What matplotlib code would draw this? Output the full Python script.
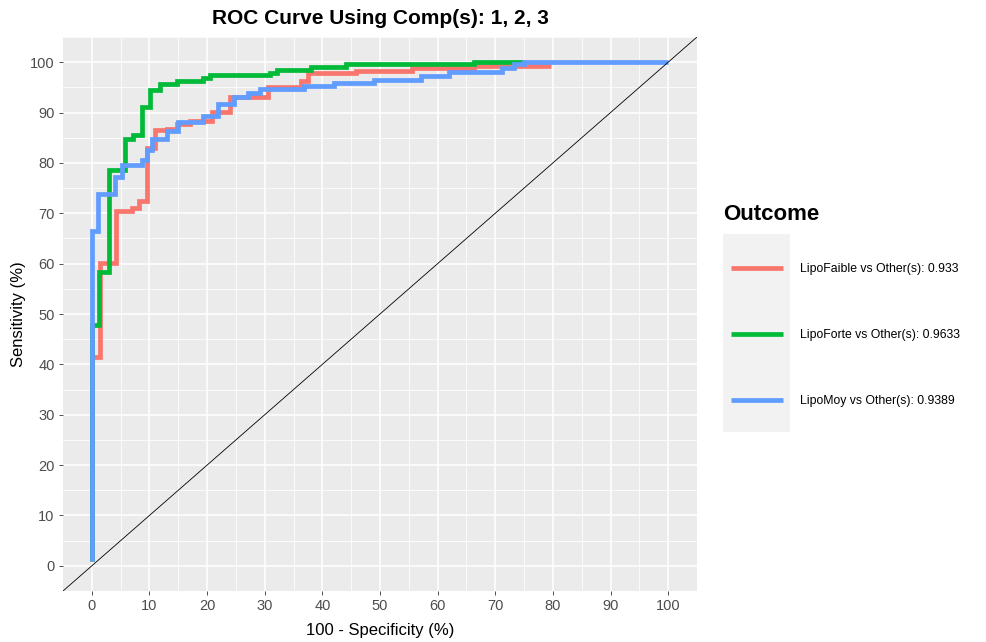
import matplotlib
matplotlib.use('Agg')
import matplotlib.pyplot as plt
from matplotlib.lines import Line2D
from matplotlib.patches import Rectangle
import numpy as np

plt.rcParams['font.family'] = ['Liberation Sans', 'DejaVu Sans']

# ROC curve corner points (100 - specificity, sensitivity)
faible_x = [0, 0, 1.4, 1.4, 4.2, 4.2, 6.9, 6.9, 8.1, 8.1, 9.6, 9.6, 11.0, 11.0, 13.0, 13.0,
            14.7, 14.7, 17.0, 17.0, 20.8, 20.8, 23.9, 23.9, 30.6, 30.6, 36.3, 36.3, 37.5, 37.5,
            45.8, 45.8, 55.6, 55.6, 66.3, 66.3, 79.6]
faible_y = [1, 41.5, 41.5, 60.2, 60.2, 70.4, 70.4, 71.1, 71.1, 72.5, 72.5, 82.9, 82.9, 86.5, 86.5, 86.8,
            86.8, 87.8, 87.8, 88.3, 88.3, 90.1, 90.1, 93.0, 93.0, 95.0, 95.0, 96.3, 96.3, 97.8,
            97.8, 98.3, 98.3, 98.8, 98.8, 99.3, 99.3]

forte_x = [0, 0, 1.3, 1.3, 3.0, 3.0, 5.8, 5.8, 7.2, 7.2, 8.65, 8.65, 10.1, 10.1, 11.8, 11.8,
           14.7, 14.7, 19.3, 19.3, 20.5, 20.5, 30.9, 30.9, 32.2, 32.2, 38.1, 38.1, 44.1, 44.1,
           66.3, 66.3, 75.2]
forte_y = [1, 47.8, 47.8, 58.3, 58.3, 78.6, 78.6, 84.8, 84.8, 85.5, 85.5, 91.1, 91.1, 94.5, 94.5, 95.7,
           95.7, 96.2, 96.2, 96.9, 96.9, 97.4, 97.4, 97.9, 97.9, 98.4, 98.4, 99.1, 99.1, 99.6,
           99.6, 100, 100]

moy_x = [0, 0, 1.15, 1.15, 4.0, 4.0, 5.2, 5.2, 8.65, 8.65, 9.5, 9.5, 10.4, 10.4, 13.0, 13.0,
         15.0, 15.0, 19.3, 19.3, 21.9, 21.9, 24.7, 24.7, 27.1, 27.1, 29.1, 29.1, 36.9, 36.9,
         42.0, 42.0, 49.0, 49.0, 57.1, 57.1, 62.0, 62.0, 71.2, 71.2, 73.2, 73.2, 75.0, 75.0, 100]
moy_y = [1, 66.5, 66.5, 73.8, 73.8, 77.2, 77.2, 79.6, 79.6, 80.6, 80.6, 82.6, 82.6, 84.8, 84.8, 86.4,
         86.4, 88.2, 88.2, 89.4, 89.4, 91.7, 91.7, 93.0, 93.0, 93.8, 93.8, 94.7, 94.7, 95.2,
         95.2, 95.8, 95.8, 96.5, 96.5, 97.3, 97.3, 98.1, 98.1, 98.8, 98.8, 99.6, 99.6, 100, 100]

labels = ['LipoFaible vs Other(s): 0.933',
          'LipoForte vs Other(s): 0.9633',
          'LipoMoy vs Other(s): 0.9389']
colors = ['#F8766D', '#00BA38', '#619CFF']
curves = [(faible_x, faible_y), (forte_x, forte_y), (moy_x, moy_y)]

fig = plt.figure(figsize=(9.87, 6.42), dpi=100)
ax = fig.add_axes([63 / 987, 1 - 591 / 642, (697 - 63) / 987, (591 - 37) / 642])
ax.set_facecolor('#EBEBEB')
for s in ax.spines.values():
    s.set_visible(False)

ax.set_xlim(-5, 105)
ax.set_ylim(-3.95, 104.95)
ticks = np.arange(0, 101, 10)
ax.set_xticks(ticks)
ax.set_yticks(ticks)
ax.set_xticks(np.arange(5, 101, 10), minor=True)
ax.set_yticks(np.arange(-5, 106, 10), minor=True)
ax.grid(which='major', color='white', linewidth=1.1)
ax.grid(which='minor', color='white', linewidth=0.55)
ax.set_axisbelow(True)
ax.tick_params(which='major', length=3, width=0.6, color='#333333',
               labelcolor='#4D4D4D', labelsize=10.5, pad=3)
ax.tick_params(which='minor', length=0)

for (xs, ys), c in zip(curves, colors):
    ax.plot(xs, ys, color=c, linewidth=3.4, solid_capstyle='butt', solid_joinstyle='miter')

ax.axline((0, 0), slope=1, color='black', linewidth=0.6)

ax.set_title('ROC Curve Using Comp(s): 1, 2, 3', fontsize=15, fontweight='bold', pad=9)
ax.set_xlabel('100 - Specificity (%)', fontsize=12, labelpad=7)
ax.set_ylabel('Sensitivity (%)', fontsize=12, labelpad=3)

# legend drawn in pixel coordinates
leg = fig.add_axes([0, 0, 1, 1], facecolor='none')
leg.set_xlim(0, 987)
leg.set_ylim(642, 0)
leg.axis('off')
leg.text(723, 214, 'Outcome', fontsize=16, fontweight='bold', va='center', ha='left')
leg.add_patch(Rectangle((723, 234), 67, 198, facecolor='#F2F2F2', edgecolor='none'))
key_y = [268, 334, 400]
for yk, c, lab in zip(key_y, colors, labels):
    leg.add_line(Line2D([731, 783], [yk, yk], color=c, linewidth=3.4, solid_capstyle='butt'))
    leg.text(800, yk + 1, lab, fontsize=8.8, va='center', ha='left', color='black')

fig.savefig('out.png', dpi=100)
